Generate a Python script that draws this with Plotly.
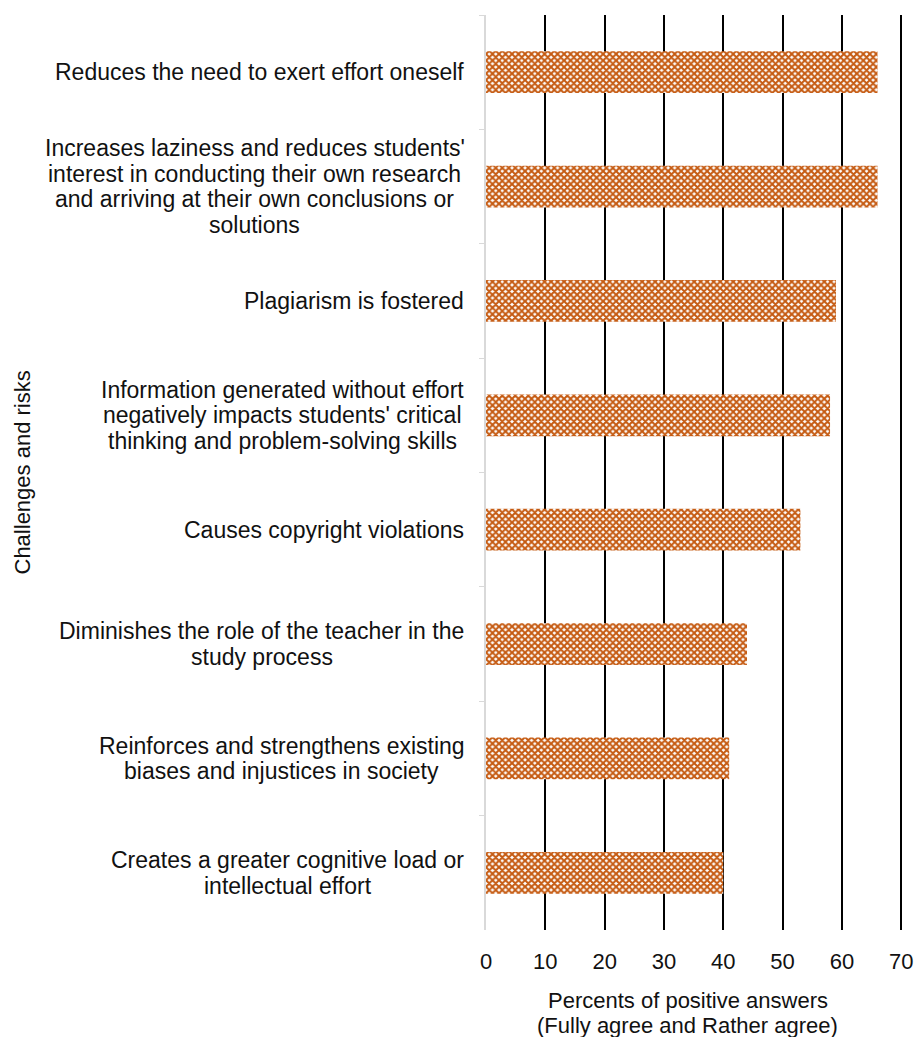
import plotly.graph_objects as go

categories = [
    "Reduces the need to exert effort oneself",
    "Increases laziness and reduces students' interest in conducting their own research and arriving at their own conclusions or solutions",
    "Plagiarism is fostered",
    "Information generated without effort negatively impacts students' critical thinking and problem-solving skills",
    "Causes copyright violations",
    "Diminishes the role of the teacher in the study process",
    "Reinforces and strengthens existing biases and injustices in society",
    "Creates a greater cognitive load or intellectual effort",
]
label_lines = [
    ["Reduces the need to exert effort oneself"],
    ["Increases laziness and reduces students'",
     "interest in conducting their own research",
     "and arriving at their own conclusions or",
     "solutions"],
    ["Plagiarism is fostered"],
    ["Information generated without effort",
     "negatively impacts students' critical",
     "thinking and problem-solving skills"],
    ["Causes copyright violations"],
    ["Diminishes the role of the teacher in the",
     "study process"],
    ["Reinforces and strengthens existing",
     "biases and injustices in society"],
    ["Creates a greater cognitive load or",
     "intellectual effort"],
]
values = [66, 66, 59, 58, 53, 44, 41, 40]
x_ticks = [0, 10, 20, 30, 40, 50, 60, 70]
x_title_lines = ["Percents of positive answers", "(Fully agree and Rather agree)"]
y_title = "Challenges and risks"

# layout-only: width of each wrapped label block (px), used to centre lines
block_widths = [413, 423, 0, 367, 0, 409, 369, 357]

FONT = "Liberation Sans, Arial, sans-serif"
TXT = "#111111"
ORANGE = "#C55A11"
LABEL_SIZE = 23
LINE_H = 25.5
GAP = 20

fig = go.Figure(
    go.Bar(
        x=values,
        y=categories,
        orientation="h",
        width=0.365,
        marker=dict(
            color="white",
            line=dict(width=0),
            pattern=dict(shape="x", fgcolor=ORANGE, bgcolor="white",
                         size=4.6, solidity=0.68, fillmode="replace"),
        ),
        hoverinfo="x+y",
    )
)

annotations = []
for cat, lines, bw in zip(categories, label_lines, block_widths):
    n = len(lines)
    for i, line in enumerate(lines):
        ys = ((n - 1) / 2 - i) * LINE_H
        if n == 1:
            annotations.append(dict(
                x=0, xref="paper", y=cat, yref="y",
                xanchor="right", yanchor="middle", xshift=-GAP, yshift=ys,
                text=line, showarrow=False,
                font=dict(family=FONT, size=LABEL_SIZE, color=TXT),
            ))
        else:
            annotations.append(dict(
                x=0, xref="paper", y=cat, yref="y",
                xanchor="center", yanchor="middle", xshift=-GAP - bw / 2, yshift=ys,
                text=line, showarrow=False,
                font=dict(family=FONT, size=LABEL_SIZE, color=TXT),
            ))

annotations.append(dict(
    x=0, xref="paper", xshift=-464, y=0.5, yref="paper",
    xanchor="center", yanchor="middle", textangle=-90,
    text=y_title, showarrow=False,
    font=dict(family=FONT, size=22, color=TXT),
))
for i, line in enumerate(x_title_lines):
    annotations.append(dict(
        x=0.5, xref="paper", y=0, yref="paper", xshift=-7, yshift=-70 - 25 * i,
        xanchor="center", yanchor="middle",
        text=line, showarrow=False,
        font=dict(family=FONT, size=22, color=TXT),
    ))

fig.update_layout(
    width=916, height=1037, autosize=False,
    margin=dict(l=486, r=13, t=15, b=107),
    paper_bgcolor="white", plot_bgcolor="white",
    showlegend=False,
    font=dict(family=FONT, size=22, color=TXT),
    annotations=annotations,
    xaxis=dict(
        range=[0, 70.3],
        automargin=False,
        tickvals=x_ticks,
        ticktext=[str(v) for v in x_ticks],
        showgrid=True, gridcolor="black", gridwidth=2.2,
        zeroline=False, showline=False, ticks="",
        ticklabelstandoff=16,
        tickfont=dict(family=FONT, size=22, color=TXT),
    ),
    yaxis=dict(
        autorange="reversed",
        automargin=False,
        showticklabels=False,
        showgrid=False, zeroline=False,
        showline=True, linecolor="#d9d9d9", linewidth=1.5,
        ticks="outside", tickson="boundaries", ticklen=5, tickcolor="#d9d9d9",
    ),
)

fig.write_html(
    "out.html",
    config={"displayModeBar": False, "responsive": False},
    post_script=(
        "document.documentElement.style.overflow='hidden';"
        "document.body.style.margin='0';"
        "document.body.style.overflow='hidden';"
    ),
)
